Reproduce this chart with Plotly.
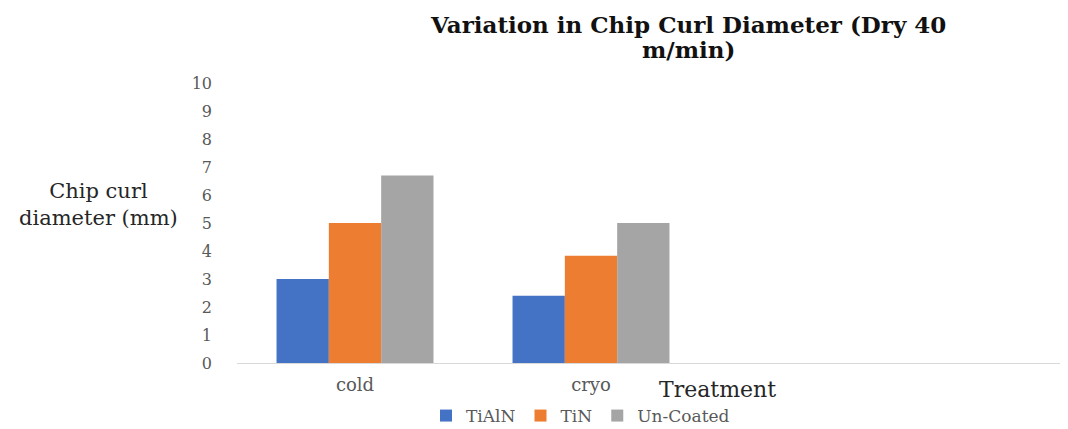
import plotly.graph_objects as go

categories = ["cold", "cryo"]
series_names = ["TiAlN", "TiN", "Un-Coated"]
tialn = [3.0, 2.4]
tin = [5.0, 3.83]
uncoated = [6.7, 5.0]
y_ticks = [0, 1, 2, 3, 4, 5, 6, 7, 8, 9, 10]
title_lines = ["Variation in Chip Curl Diameter (Dry 40", "m/min)"]

colors = ["#4472C4", "#ED7D31", "#A5A5A5"]
serif = "DejaVu Serif"

fig = go.Figure()
for name, vals, c in zip(series_names, [tialn, tin, uncoated], colors):
    fig.add_trace(go.Bar(x=categories, y=vals, name=name, marker=dict(color=c, line=dict(width=0))))

# page body has an 8px margin; figure coordinates = screen - 8
W, H = 1060, 421
L, R, T, B = 229, 0, 75, 66
pw = W - L - R
ph = H - T - B
cat_px = 236

fig.update_layout(
    width=W, height=H,
    margin=dict(l=L, r=R, t=T, b=B, autoexpand=False),
    paper_bgcolor="white", plot_bgcolor="white",
    barmode="group", bargap=0.335, bargroupgap=0,
    font=dict(family=serif, color="#595959", size=15),
    showlegend=True,
    legend=dict(orientation="h", x=(418 - L) / pw, xanchor="left", y=-(408 - 355) / ph, yanchor="middle",
                font=dict(family=serif, size=17, color="#595959"), itemwidth=30, tracegroupgap=0,
                bgcolor="rgba(0,0,0,0)", borderwidth=0),
    xaxis=dict(type="category", range=[-0.5, -0.5 + pw / cat_px], showgrid=False, showline=True,
               linecolor="#D9D9D9", linewidth=1, ticks="", tickfont=dict(family=serif, size=18, color="#595959"),
               ticklabelstandoff=5),
    yaxis=dict(range=[0, 10], tickvals=y_ticks, showgrid=False, showline=False, zeroline=False, ticks="",
               tickfont=dict(family=serif, size=16, color="#595959"), ticklabelstandoff=24),
)

for line, yc in zip(title_lines, [24, 49]):
    fig.add_annotation(text="<b>" + line + "</b>", xref="paper", yref="paper",
                       x=(680 - L) / pw, y=1 + (T - (yc - 8)) / ph, xanchor="center", yanchor="middle",
                       showarrow=False, borderpad=0, font=dict(family=serif, size=23, color="#111111"))
fig.add_annotation(text="Chip curl<br>diameter (mm)", xref="paper", yref="paper",
                   x=-(L - 90) / pw, y=(355 - 196) / ph, xanchor="center", yanchor="middle", showarrow=False,
                   font=dict(family=serif, size=21, color="#262626"), align="center")
fig.add_annotation(text="Treatment", xref="paper", yref="paper",
                   x=(709 - L) / pw, y=-(381 - 355) / ph, xanchor="center", yanchor="middle", showarrow=False,
                   borderpad=0, font=dict(family=serif, size=22, color="#262626"))

fig.write_html("out.html")
